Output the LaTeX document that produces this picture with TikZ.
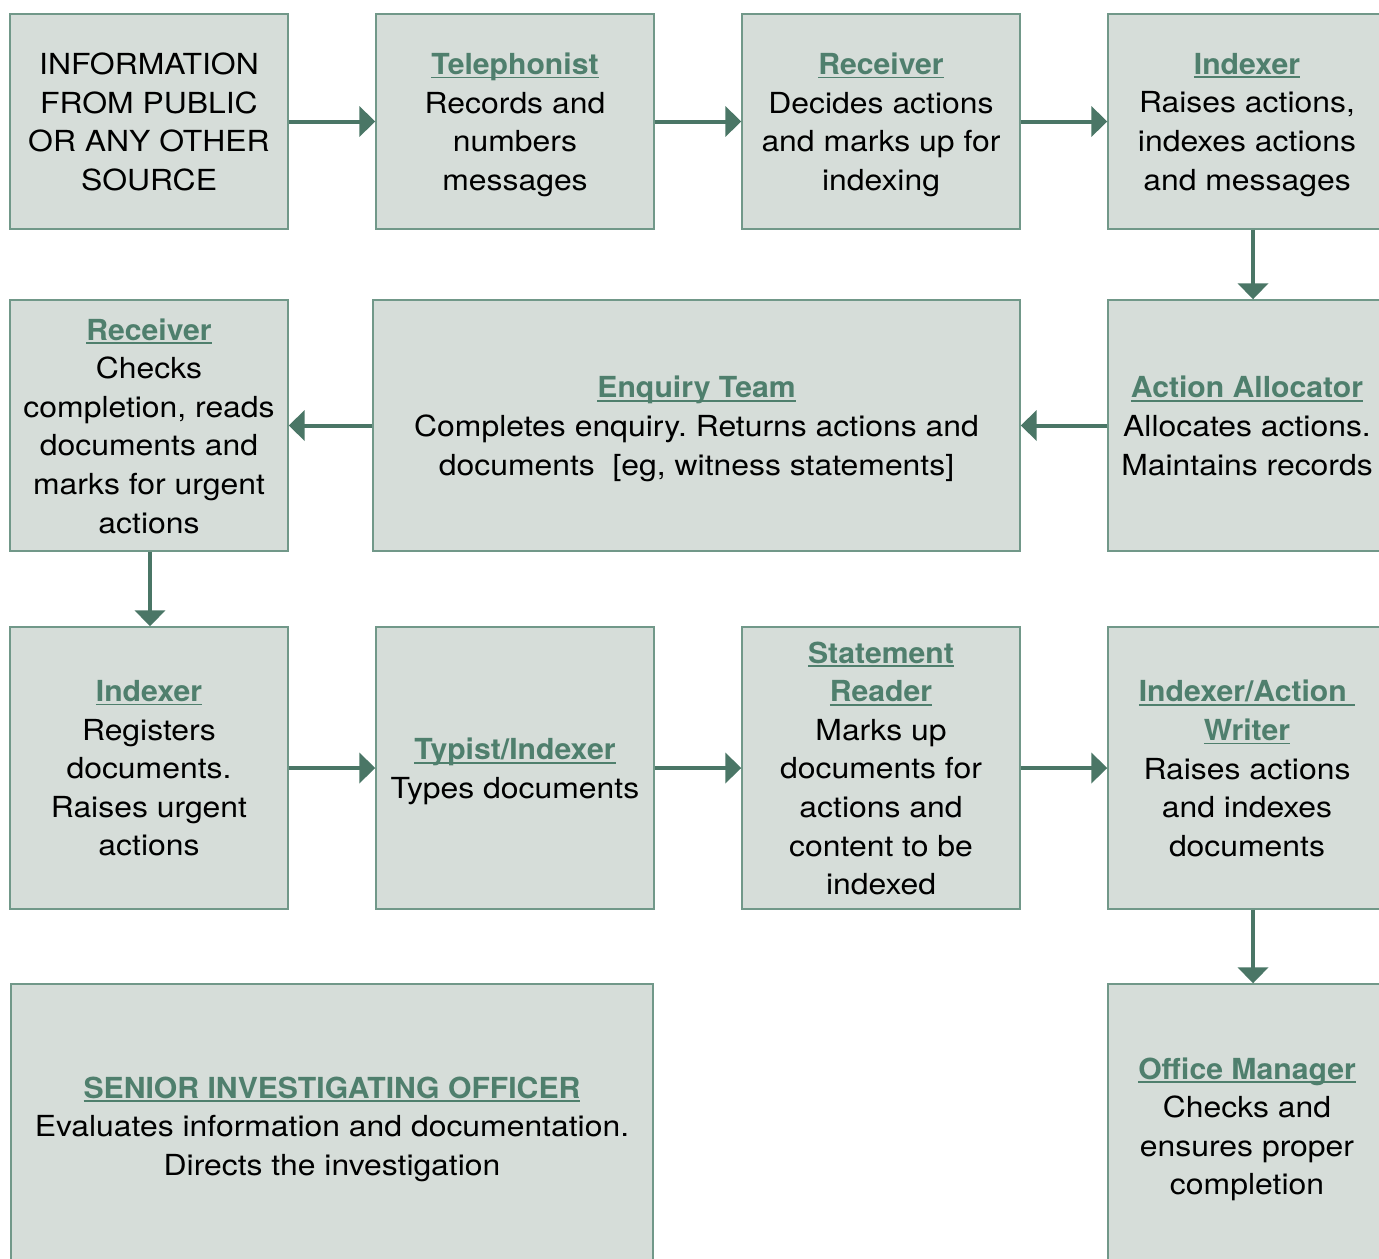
\documentclass[tikz,border=0pt]{standalone}
\usepackage{fontspec}
\setmainfont[FakeStretch=1.1]{TeX Gyre Heros}
\newfontfamily\ttlfont[FakeStretch=1.04]{TeX Gyre Heros}
\usetikzlibrary{arrows.meta}
\definecolor{boxfill}{HTML}{D6DDD9}
\definecolor{boxline}{HTML}{719889}
\definecolor{arrowcol}{HTML}{4A7666}
\definecolor{titlecol}{HTML}{4F7F6D}
\newcommand\ttl[1]{\sbox0{\ttlfont\bfseries\textcolor{titlecol}{#1}}\rlap{\textcolor{titlecol}{\rule[-1.9pt]{\wd0}{0.85pt}}}\usebox0}
\tikzset{
  box/.style={draw=boxline, fill=boxfill, line width=0.7pt, inner sep=0pt},
  txt/.style={inner sep=0pt, align=center, font=\fontsize{14.5}{19.3}\selectfont\frenchspacing,
    text=black, execute at end node=\strut},
  rowa/.style={box, minimum width=139pt, minimum height=107.5pt},
  rowb/.style={box, minimum width=139pt, minimum height=125.5pt},
  rowc/.style={box, minimum width=139pt, minimum height=141pt},
  rowd/.style={box, minimum width=139pt, minimum height=142pt},
  flow/.style={draw=arrowcol, line width=2pt, -{Triangle[length=8pt,width=15pt]}}
}
\newcommand\boxtext[2]{\node[txt] (#1-t) at ([yshift=-3pt]#1.center) {#2};}
\begin{document}
\begin{tikzpicture}[x=0.5pt,y=-0.5pt]
\useasboundingbox (0,0) rectangle (1379,1258);
\clip (0,0) rectangle (1379,1258);
% boxes
\node[rowa] (info) at (149,121.5) {};
\node[rowa] (tel) at (515,121.5) {};
\node[rowa] (rec1) at (881,121.5) {};
\node[rowa] (idx1) at (1247,121.5) {};
\node[rowb] (alloc) at (1247,425.5) {};
\node[rowb, minimum width=323.5pt] (enq) at (696.5,425.5) {};
\node[rowb] (rec2) at (149,425.5) {};
\node[rowc] (idx2) at (149,768) {};
\node[rowc] (typ) at (515,768) {};
\node[rowc] (stmt) at (881,768) {};
\node[rowc] (writer) at (1247,768) {};
\node[rowd, minimum width=321pt] (sio) at (332,1126) {};
\node[rowd] (office) at (1247,1126) {};
% texts
\boxtext{info}{INFORMATION\\FROM PUBLIC\\OR ANY OTHER\\SOURCE}
\boxtext{tel}{\ttl{Telephonist}\\Records and\\numbers\\messages}
\boxtext{rec1}{\ttl{Receiver}\\Decides actions\\and marks up for\\indexing}
\boxtext{idx1}{\ttl{Indexer}\\Raises actions,\\indexes actions\\and messages}
\boxtext{alloc}{\ttl{Action Allocator}\\Allocates actions.\\Maintains records}
\boxtext{enq}{\ttl{Enquiry Team}\\Completes enquiry. Returns actions and\\documents\ \ [eg, witness statements]}
\boxtext{rec2}{\ttl{Receiver}\\Checks\\completion, reads\\documents and\\marks for urgent\\actions}
\boxtext{idx2}{\ttl{Indexer}\\Registers\\documents.\\Raises urgent\\actions}
\boxtext{typ}{\ttl{Typist/Indexer}\\Types documents}
\boxtext{stmt}{\ttl{Statement}\\\ttl{Reader}\\Marks up\\documents for\\actions and\\content to be\\indexed}
\boxtext{writer}{\ttl{Indexer/Action\ }\\\ttl{Writer}\\Raises actions\\and indexes\\documents}
\boxtext{sio}{\ttl{SENIOR INVESTIGATING OFFICER}\\Evaluates information and documentation.\\Directs the investigation}
\boxtext{office}{\ttl{Office Manager}\\Checks and\\ensures proper\\completion}
% connectors
\draw[flow] (info.east) -- (tel.west);
\draw[flow] (tel.east) -- (rec1.west);
\draw[flow] (rec1.east) -- (idx1.west);
\draw[flow] ([xshift=3pt]idx1.south) -- ([xshift=3pt]alloc.north);
\draw[flow] (alloc.west) -- (enq.east);
\draw[flow] (enq.west) -- (rec2.east);
\draw[flow] ([xshift=0.5pt]rec2.south) -- ([xshift=0.5pt]idx2.north);
\draw[flow] (idx2.east) -- (typ.west);
\draw[flow] (typ.east) -- (stmt.west);
\draw[flow] (stmt.east) -- (writer.west);
\draw[flow] ([xshift=3pt]writer.south) -- ([xshift=3pt]office.north);
\end{tikzpicture}
\end{document}
